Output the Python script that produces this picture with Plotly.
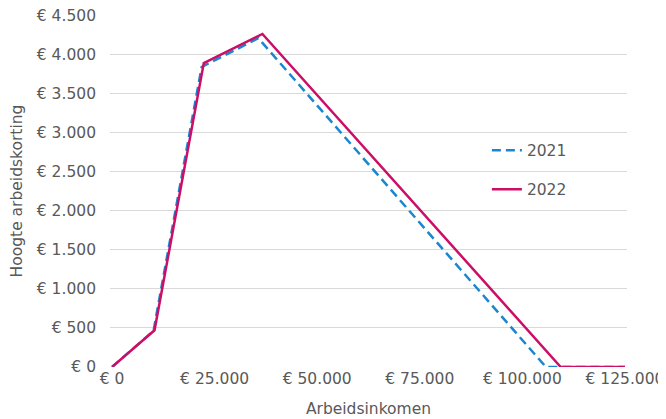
import plotly.graph_objects as go

# Data (Arbeidsinkomen -> Hoogte arbeidskorting)
inkomen_2021 = [0, 10108, 21835, 35652, 105736, 125000]
korting_2021 = [0, 463, 3837, 4205, 0, 0]
inkomen_2022 = [0, 10351, 22357, 36650, 109347, 125000]
korting_2022 = [0, 470, 3887, 4260, 0, 0]

x_tickvals = [0, 25000, 50000, 75000, 100000, 125000]
x_ticktext = ["€ 0", "€ 25.000", "€ 50.000", "€ 75.000", "€ 100.000", "€ 125.000"]
y_tickvals = [0, 500, 1000, 1500, 2000, 2500, 3000, 3500, 4000, 4500]
y_ticktext = ["€ 0", "€ 500", "€ 1.000", "€ 1.500", "€ 2.000", "€ 2.500",
              "€ 3.000", "€ 3.500", "€ 4.000", "€ 4.500"]

FONT = "DejaVu Sans"
GREY = "#595959"
FS = 15.5

fig = go.Figure()
fig.add_trace(go.Scatter(x=inkomen_2021, y=korting_2021, mode="lines", name="2021",
                         legendgroup="a",
                         line=dict(color="#1a86d0", width=2.5, dash="9px,5px")))
fig.add_trace(go.Scatter(x=inkomen_2022, y=korting_2022, mode="lines", name="2022",
                         legendgroup="b",
                         line=dict(color="#cc0e66", width=2.5)))

# the page body adds an 8px offset; margins place the plot area as in the reference
fig.update_layout(
    width=666, height=419,
    margin=dict(l=102, r=47, t=7, b=60, autoexpand=False),
    paper_bgcolor="white", plot_bgcolor="white",
    font=dict(family=FONT, size=FS, color=GREY),
    showlegend=True,
    legend=dict(x=0.729, y=0.663, xanchor="left", yanchor="top",
                bgcolor="rgba(0,0,0,0)", tracegroupgap=16,
                font=dict(family=FONT, size=FS, color=GREY)),
    xaxis=dict(range=[-500, 125500], tickvals=x_tickvals, ticktext=x_ticktext,
               showgrid=False, zeroline=False, showline=False, ticks="",
               automargin=False, ticklabeloverflow="allow",
               tickfont=dict(size=FS, color=GREY),
               title=dict(text="Arbeidsinkomen", standoff=16,
                          font=dict(size=FS, color=GREY))),
    yaxis=dict(range=[0, 4502], tickvals=y_tickvals, ticktext=y_ticktext,
               showgrid=True, gridcolor="#d9d9d9", gridwidth=1,
               zeroline=False, showline=False, ticks="",
               automargin=False, ticklabelstandoff=13, ticklabeloverflow="allow",
               tickfont=dict(size=FS, color=GREY),
               title=dict(text="Hoogte arbeidskorting", standoff=12,
                          font=dict(size=FS, color=GREY))),
)

fig.write_html("out.html")
